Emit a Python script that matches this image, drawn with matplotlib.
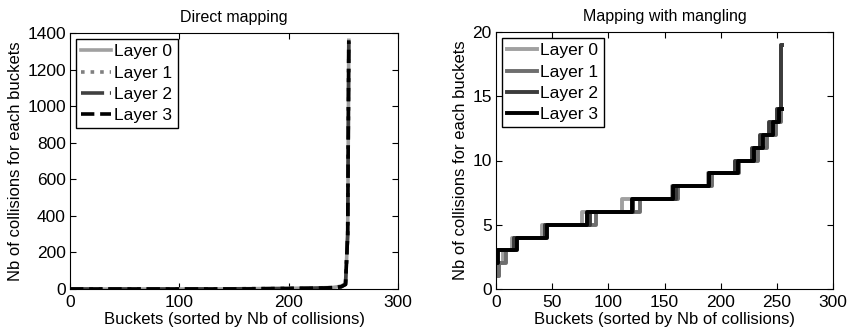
import numpy as np
import matplotlib.pyplot as plt

plt.rcParams['font.family'] = ['Liberation Sans', 'DejaVu Sans']
plt.rcParams['font.size'] = 12.5

layers = ['Layer 0', 'Layer 1', 'Layer 2', 'Layer 3']

# direct mapping: sorted collision counts (sampled buckets)
direct_x = [0, 50, 100, 150, 190, 220, 240, 248, 252, 254, 255]
direct_y = {
    'Layer 0': [0, 0, 0, 1, 3, 5, 8, 15, 30, 300, 1360],
    'Layer 1': [0, 0, 0, 1, 3, 5, 8, 14, 28, 300, 1355],
    'Layer 2': [0, 0, 0, 1, 2, 4, 7, 13, 25, 300, 1350],
    'Layer 3': [0, 0, 0, 0, 2, 4, 7, 12, 25, 300, 1360],
}

# mangling: bucket index where each level starts
mangle_x = {
    'Layer 0': [0, 3, 6, 14, 41, 77, 112, 157, 189, 213, 231, 237, 246, 250],
    'Layer 1': [0, 3, 9, 16, 44, 89, 128, 162, 192, 216, 233, 241, 249, 254],
    'Layer 2': [0, 1, 16, 44, 84, 122, 160, 190, 213, 228, 235, 243, 250, 254],
    'Layer 3': [0, 2, 19, 45, 81, 121, 158, 190, 215, 230, 238, 247, 252],
}
mangle_y = {
    'Layer 0': [1, 2, 3, 4, 5, 6, 7, 8, 9, 10, 11, 12, 13, 14],
    'Layer 1': [1, 2, 3, 4, 5, 6, 7, 8, 9, 10, 11, 12, 13, 19],
    'Layer 2': [2, 3, 4, 5, 6, 7, 8, 9, 10, 11, 12, 13, 14, 19],
    'Layer 3': [2, 3, 4, 5, 6, 7, 8, 9, 10, 11, 12, 13, 14],
}
last_bucket = 255

direct_styles = [('#a0a0a0', '-'), ('#808080', ':'), ('#404040', '-.'), ('#000000', '--')]
mangle_colors = ['#a0a0a0', '#6e6e6e', '#3c3c3c', '#000000']

fig = plt.figure(figsize=(8.48, 3.31), dpi=100)
ax1 = fig.add_axes([70 / 848, 42 / 331, 328 / 848, 256 / 331])
ax2 = fig.add_axes([496 / 848, 42 / 331, 337 / 848, 257 / 331])

for name, (c, ls) in zip(layers, direct_styles):
    ax1.plot(direct_x, direct_y[name], color=c, linestyle=ls, lw=2.6, label=name)

for name, c in zip(layers, mangle_colors):
    xs = mangle_x[name] + [last_bucket]
    ys = mangle_y[name] + [mangle_y[name][-1]]
    ax2.plot(xs, ys, color=c, lw=2.8, drawstyle='steps-post', label=name)

ax1.set_xlim(0, 300)
ax1.set_ylim(0, 1400)
ax1.set_xticks([0, 100, 200, 300])
ax1.set_yticks(range(0, 1401, 200))
ax1.set_title('Direct mapping', fontsize=11.5, pad=8)

ax2.set_xlim(0, 300)
ax2.set_ylim(0, 20)
ax2.set_xticks(range(0, 301, 50))
ax2.set_yticks([0, 5, 10, 15, 20])
ax2.set_title('Mapping with mangling', fontsize=11.5, pad=8)

for ax in (ax1, ax2):
    ax.set_xlabel('Buckets (sorted by Nb of collisions)', fontsize=12, labelpad=2)
    ax.set_ylabel('Nb of collisions for each buckets', fontsize=12, labelpad=3)
    ax.tick_params(direction='in', top=True, right=True, length=4)
    ax.tick_params(axis='x', pad=4)
    ax.tick_params(axis='y', pad=3)
    leg = ax.legend(loc='upper left', fancybox=False, framealpha=1,
                    edgecolor='black', handlelength=1.7, handletextpad=0.2,
                    labelspacing=0.35, borderpad=0.3, borderaxespad=0.35)
    leg.get_frame().set_linewidth(1.0)

fig.savefig('out.png', dpi=100)
